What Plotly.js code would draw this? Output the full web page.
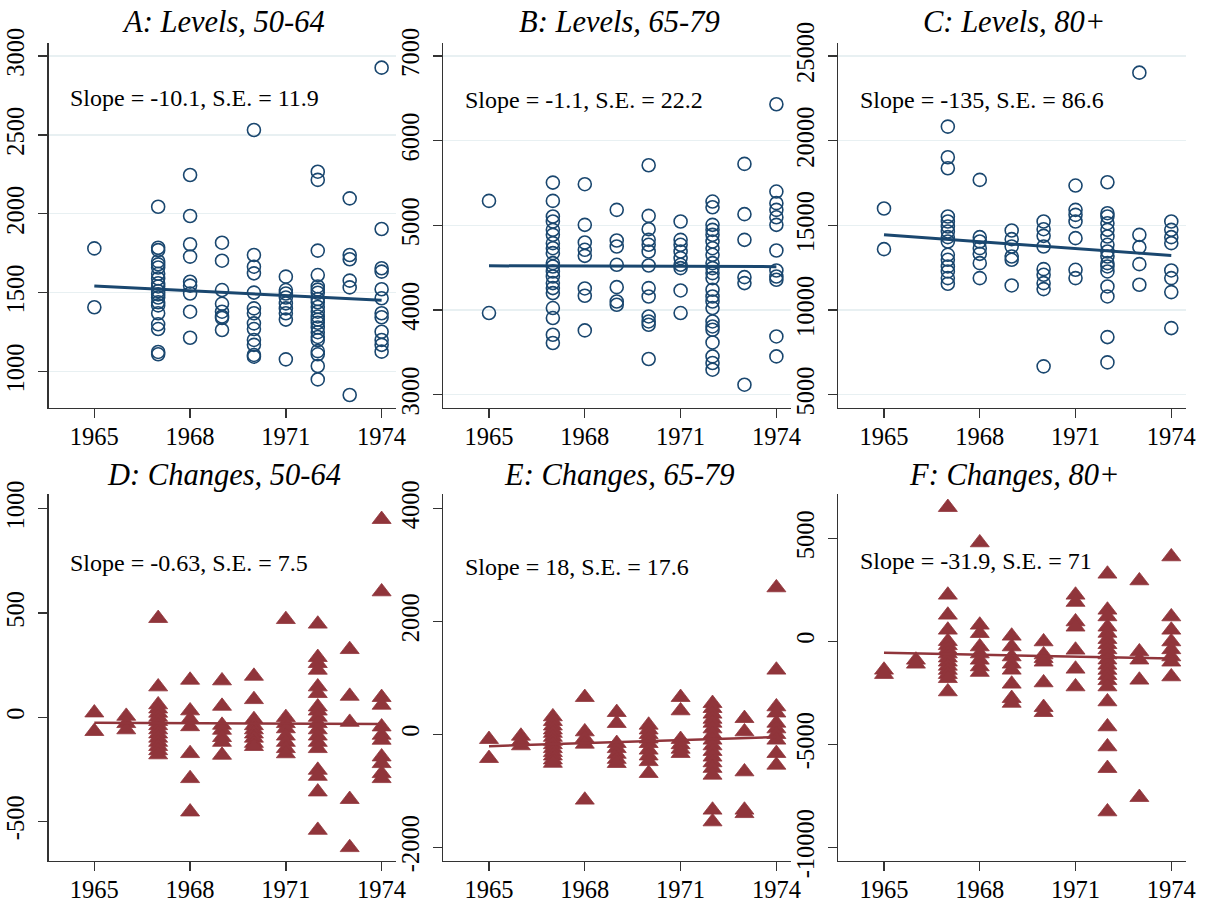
<!DOCTYPE html>
<html>
<head>
<meta charset="utf-8">
<script src="https://cdn.plot.ly/plotly-3.0.1.min.js"></script>
<style>
html,body{margin:0;padding:0;background:#fff;}
#chart{width:1208px;height:905px;}
</style>
</head>
<body>
<div id="chart"></div>
<script>
// ---------------- data ----------------
const years = [1965, 1966, 1967, 1968, 1969, 1970, 1971, 1972, 1973, 1974];
const xTicks = [1965, 1968, 1971, 1974];

const panelTitles = ["A: Levels, 50-64", "B: Levels, 65-79", "C: Levels, 80+",
                     "D: Changes, 50-64", "E: Changes, 65-79", "F: Changes, 80+"];
const slopeLabels = ["Slope = -10.1, S.E. = 11.9", "Slope = -1.1, S.E. = 22.2", "Slope = -135, S.E. = 86.6",
                     "Slope = -0.63, S.E. = 7.5", "Slope = 18, S.E. = 17.6", "Slope = -31.9, S.E. = 71"];
const slopes = [-10.1, -1.1, -135, -0.63, 18, -31.9];
const fitAt1965 = [1543, 4522, 14440, -27, -210, -553];

const yTickValsA = [1000, 1500, 2000, 2500, 3000];
const yTickValsB = [3000, 4000, 5000, 6000, 7000];
const yTickValsC = [5000, 10000, 15000, 20000, 25000];
const yTickValsD = [-500, 0, 500, 1000];
const yTickValsE = [-2000, 0, 2000, 4000];
const yTickValsF = [-10000, -5000, 0, 5000];

// values per year (index matches `years`)
const levels5064 = [
  [1781, 1408],
  [],
  [2045, 1785, 1770, 1700, 1680, 1660, 1620, 1590, 1560, 1540, 1510, 1490, 1470, 1440, 1420, 1370, 1300, 1270, 1125, 1110],
  [2246, 1986, 1807, 1729, 1570, 1545, 1495, 1380, 1215],
  [1817, 1703, 1517, 1430, 1380, 1350, 1340, 1264],
  [2531, 1739, 1665, 1623, 1501, 1401, 1370, 1306, 1270, 1201, 1170, 1106, 1095],
  [1602, 1517, 1495, 1470, 1433, 1401, 1370, 1330, 1078],
  [2267, 2215, 1767, 1612, 1540, 1520, 1500, 1460, 1440, 1410, 1380, 1350, 1330, 1310, 1280, 1250, 1220, 1200, 1130, 1110, 1036, 951],
  [2098, 1739, 1712, 1577, 1534, 852],
  [2926, 1904, 1655, 1634, 1522, 1465, 1370, 1345, 1253, 1201, 1170, 1127]
];
const levels6579 = [
  [5289, 3964],
  [],
  [5505, 5289, 5104, 5045, 4947, 4888, 4790, 4730, 4672, 4554, 4514, 4455, 4396, 4318, 4259, 4200, 4023, 3905, 3708, 3610],
  [5486, 5006, 4797, 4711, 4640, 4255, 4168, 3759],
  [5183, 4821, 4750, 4534, 4270, 4101, 4062],
  [5710, 5112, 4955, 4829, 4770, 4691, 4526, 4259, 4160, 3924, 3865, 3826, 3421],
  [5045, 4829, 4770, 4691, 4613, 4534, 4495, 4231, 3964],
  [5281, 5214, 5006, 4947, 4888, 4809, 4730, 4652, 4554, 4495, 4436, 4377, 4239, 4160, 4101, 4023, 3865, 3806, 3767, 3617, 3452, 3374, 3295],
  [5726, 5132, 4829, 4388, 4318, 3118],
  [6430, 5399, 5262, 5183, 5096, 5006, 4703, 4467, 4396, 4357, 3688, 3452]
];
const levels80 = [
  [15993, 13594],
  [],
  [20831, 19022, 18373, 15521, 15226, 14931, 14636, 14302, 14046, 13260, 12965, 12572, 12277, 11884, 11549],
  [17684, 14302, 14046, 13653, 13318, 12768, 11884],
  [14695, 14184, 13751, 13161, 12965, 11450],
  [15226, 14774, 14381, 13751, 12414, 12080, 11588, 11234, 6672],
  [17350, 15914, 15619, 15226, 14243, 12375, 11884],
  [17547, 15718, 15521, 15128, 14735, 14341, 13850, 13456, 13161, 12768, 12572, 12277, 11392, 10801, 8402, 6907],
  [24017, 14440, 13712, 12709, 11490],
  [15226, 14735, 14302, 13948, 12336, 11884, 11057, 8933]
];
const changes5064 = [
  [21, -68],
  [5, -30, -60],
  [474, 146, 60, 40, 20, 0, -20, -40, -60, -80, -100, -120, -140, -160, -180],
  [178, 31, -10, -45, -174, -294, -454],
  [175, 53, -38, -62, -97, -120, -182],
  [197, 85, -11, -40, -60, -80, -100, -125, -140],
  [469, -1, -30, -55, -90, -120, -150, -175],
  [447, 287, 258, 226, 146, 114, 50, 30, 0, -30, -60, -90, -120, -150, -254, -283, -358, -542],
  [325, 101, -24, -394, -625],
  [949, 602, 95, 58, -46, -86, -110, -190, -222, -270, -294]
];
const changes6579 = [
  [-88, -425],
  [-30, -120, -200],
  [313, 230, 150, 80, 20, -50, -120, -180, -250, -320, -380, -450, -510],
  [655, 47, -70, -171, -1162],
  [389, 195, -159, -250, -350, -440, -513],
  [165, 80, 0, -80, -160, -277, -380, -480, -690],
  [655, 419, -88, -180, -260, -336],
  [549, 460, 360, 270, 200, 100, 0, -100, -200, -300, -400, -500, -600, -720, -1339, -1546],
  [283, 47, -661, -1339, -1400],
  [2596, 1139, 490, 380, 200, 100, 0, -100, -336, -543]
];
const changes80 = [
  [-1392, -1600],
  [-906, -1100],
  [6505, 2249, 1278, 550, 0, -200, -400, -600, -800, -1000, -1200, -1400, -1600, -1800, -2443],
  [4790, 793, 388, -259, -600, -906, -1230, -1500],
  [259, -259, -745, -1100, -1392, -2071, -2767, -3000],
  [-16, -650, -825, -1000, -2006, -3204, -3450],
  [2249, 1900, 955, 700, -421, -1343, -2201],
  [3269, 1521, 1200, 700, 400, 100, -150, -400, -650, -900, -1150, -1400, -1650, -1900, -2201, -2929, -4142, -5113, -6165, -8269],
  [2945, -502, -900, -1877, -7573],
  [4110, 1197, 550, -16, -400, -745, -1000, -1715]
];

// ---------------- build ----------------
const NAVY = '#1a476f', MAROON = '#90353b', AXIS = '#333333', GRID = '#e8f0f2';
const FONT = 'Liberation Serif, Times New Roman, serif';

const panels = [
  {data: levels5064, ticks: yTickValsA, range: [770, 3084], kind: 'lvl'},
  {data: levels6579, ticks: yTickValsB, range: [2843, 7157], kind: 'lvl'},
  {data: levels80,   ticks: yTickValsC, range: [4215, 25785], kind: 'lvl'},
  {data: changes5064, ticks: yTickValsD, range: [-690, 1069], kind: 'chg'},
  {data: changes6579, ticks: yTickValsE, range: [-2242, 4248], kind: 'chg'},
  {data: changes80,   ticks: yTickValsF, range: [-10665, 7136], kind: 'chg'}
];

const xDomains = [[0.0403, 0.3278], [0.3670, 0.6546], [0.6940, 0.9815]];
const yDomains = [[0.5492, 0.9528], [0.0486, 0.4538]];
const titleX = [0.1854, 0.5132, 0.8398];
const titleY = [0.9757, 0.4751];
const slopeY = [0.849, 0.843, 0.843, 0.812, 0.801, 0.818];

const traces = [];
const layout = {
  width: 1208, height: 905,
  margin: {l: 0, r: 0, t: 0, b: 0},
  paper_bgcolor: '#ffffff', plot_bgcolor: '#ffffff',
  showlegend: false,
  font: {family: FONT, color: '#000', size: 24},
  annotations: []
};

panels.forEach((p, i) => {
  const n = i + 1;
  const xa = n === 1 ? 'x' : 'x' + n;
  const ya = n === 1 ? 'y' : 'y' + n;
  const col = i % 3, row = Math.floor(i / 3);
  const xs = [], ys = [];
  p.data.forEach((vals, k) => vals.forEach(v => { xs.push(years[k]); ys.push(v); }));
  const isLvl = p.kind === 'lvl';
  traces.push({
    type: 'scatter', mode: 'markers', x: xs, y: ys, xaxis: xa, yaxis: ya,
    marker: isLvl
      ? {symbol: 'circle-open', size: 13, color: NAVY, line: {width: 1.6, color: NAVY}}
      : {symbol: 'triangle-up', size: 16.5, color: MAROON, line: {width: 0.8, color: MAROON}},
    hoverinfo: 'x+y'
  });
  const x0 = years[0], x1 = years[years.length - 1];
  traces.push({
    type: 'scatter', mode: 'lines', xaxis: xa, yaxis: ya,
    x: [x0, x1],
    y: [fitAt1965[i], fitAt1965[i] + slopes[i] * (x1 - x0)],
    line: {color: isLvl ? NAVY : MAROON, width: isLvl ? 3 : 2.5},
    hoverinfo: 'skip'
  });
  layout['xaxis' + (n === 1 ? '' : n)] = {
    domain: xDomains[col], anchor: ya, range: [1963.57, 1974.45],
    tickvals: xTicks, ticktext: xTicks.map(String),
    ticks: 'outside', ticklen: 9, tickwidth: 1.3, tickcolor: AXIS,
    ticklabelstandoff: -3,
    showline: true, linecolor: AXIS, linewidth: 1.4,
    showgrid: false, zeroline: false,
    tickfont: {family: FONT, size: 24.5, color: '#000'}
  };
  layout['yaxis' + (n === 1 ? '' : n)] = {
    domain: yDomains[row], anchor: xa, range: p.range,
    tickvals: p.ticks, ticktext: p.ticks.map(String),
    tickangle: -90, ticklabelstandoff: 4,
    ticks: 'outside', ticklen: 9, tickwidth: 1.3, tickcolor: AXIS,
    showline: true, linecolor: AXIS, linewidth: 1.4,
    showgrid: isLvl, gridcolor: GRID, gridwidth: 1.3, zeroline: false,
    tickfont: {family: FONT, size: 24.5, color: '#000'}
  };
  layout.annotations.push({
    xref: 'paper', yref: 'paper', x: titleX[col], y: titleY[row],
    xanchor: 'center', yanchor: 'middle', showarrow: false,
    text: panelTitles[i],
    font: {family: FONT, size: 30.5, style: 'italic', color: '#000'}
  });
  layout.annotations.push({
    xref: xa + ' domain', yref: ya + ' domain', x: 0.056, y: slopeY[i],
    xanchor: 'left', yanchor: 'middle', showarrow: false,
    text: slopeLabels[i],
    font: {family: FONT, size: 24, color: '#000'}
  });
});

Plotly.newPlot('chart', traces, layout, {staticPlot: true, displayModeBar: false});
</script>
</body>
</html>
